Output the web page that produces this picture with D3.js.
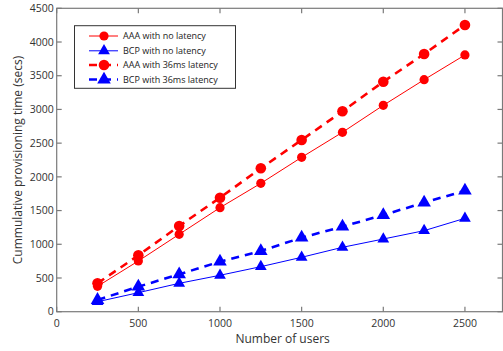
<!DOCTYPE html>
<html>
<head>
<meta charset="utf-8">
<script src="https://cdn.jsdelivr.net/npm/d3@7"></script>
<style>
  body { margin: 0; background: #fff; }
  svg { display: block; font-family: "Open Sans", sans-serif; }
</style>
</head>
<body>
<div id="chart"></div>
<script>

// data
var users = [250, 500, 750, 1000, 1250, 1500, 1750, 2000, 2250, 2500];
var aaaNoLatency  = [377, 752, 1148, 1543, 1904, 2290, 2661, 3061, 3441, 3808];
var bcpNoLatency  = [148, 282, 421, 540, 668, 807, 955, 1078, 1202, 1385];
var aaa36ms       = [421, 836, 1271, 1691, 2127, 2547, 2972, 3411, 3822, 4252];
var bcp36ms       = [174, 371, 555, 742, 900, 1098, 1261, 1434, 1617, 1795];
var xTicks = [0, 500, 1000, 1500, 2000, 2500];
var yTicks = [0, 500, 1000, 1500, 2000, 2500, 3000, 3500, 4000, 4500];

var series = [
  {name: "AAA with no latency",   values: aaaNoLatency, color: "#ff0000", marker: "circle",   dashed: false},
  {name: "BCP with no latency",   values: bcpNoLatency, color: "#0000ff", marker: "triangle", dashed: false},
  {name: "AAA with 36ms latency", values: aaa36ms,      color: "#ff0000", marker: "circle",   dashed: true},
  {name: "BCP with 36ms latency", values: bcp36ms,      color: "#0000ff", marker: "triangle", dashed: true}
];

var w = 503, h = 351;
var plotL = 56.7, plotR = 502.5, plotT = 8.3, plotB = 311.7;
var axisColor = "#7a7a7a";
var textColor = "#333333";

var svg = d3.select("#chart").append("svg").attr("width", w).attr("height", h);

var x = d3.scaleLinear().domain([0, 2730]).range([plotL, plotR]);
var y = d3.scaleLinear().domain([0, 4500]).range([plotB, plotT]);

// box + ticks (inward on all four sides)
var tickLen = 5;
var frame = svg.append("g").attr("stroke", axisColor).attr("stroke-width", 1.2).attr("fill", "none");
frame.append("rect").attr("x", plotL).attr("y", plotT).attr("width", plotR - plotL).attr("height", plotB - plotT);

xTicks.forEach(function(t) {
  frame.append("line").attr("x1", x(t)).attr("x2", x(t)).attr("y1", plotB).attr("y2", plotB - tickLen);
  frame.append("line").attr("x1", x(t)).attr("x2", x(t)).attr("y1", plotT).attr("y2", plotT + tickLen);
});
yTicks.forEach(function(t) {
  frame.append("line").attr("x1", plotL).attr("x2", plotL + tickLen).attr("y1", y(t)).attr("y2", y(t));
  frame.append("line").attr("x1", plotR).attr("x2", plotR - tickLen).attr("y1", y(t)).attr("y2", y(t));
});

svg.append("g").selectAll("text").data(xTicks).enter().append("text")
   .attr("x", function(d) { return x(d); })
   .attr("y", plotB + 15.5)
   .attr("text-anchor", "middle")
   .attr("font-size", 10.5)
   .attr("fill", textColor)
   .text(function(d) { return d; });

svg.append("g").selectAll("text").data(yTicks).enter().append("text")
   .attr("x", plotL - 3)
   .attr("y", function(d) { return y(d); })
   .attr("dy", "0.35em")
   .attr("text-anchor", "end")
   .attr("font-size", 10.5)
   .attr("fill", textColor)
   .text(function(d) { return d; });

svg.append("text")
   .attr("x", (plotL + plotR) / 2 + 3)
   .attr("y", 342.5)
   .attr("text-anchor", "middle")
   .attr("font-size", 12)
   .attr("fill", textColor)
   .text("Number of users");

svg.append("text")
   .attr("transform", "translate(22," + ((plotT + plotB) / 2) + ") rotate(-90)")
   .attr("text-anchor", "middle")
   .attr("font-size", 12)
   .attr("fill", textColor)
   .text("Cummulative provisioning time (secs)");

// markers
var triangle = d3.symbol().type(d3.symbolTriangle);
function drawMarker(sel, s, cx, cy) {
  var big = s.dashed;
  if (s.marker === "circle") {
    sel.append("circle").attr("cx", cx).attr("cy", cy).attr("r", big ? 5.3 : 4.6).attr("fill", s.color);
  } else {
    sel.append("path").attr("d", triangle.size(big ? 80 : 60)())
       .attr("transform", "translate(" + cx + "," + cy + ")")
       .attr("fill", s.color);
  }
}

var line = d3.line().x(function(d) { return x(d[0]); }).y(function(d) { return y(d[1]); });

series.forEach(function(s) {
  var pts = users.map(function(u, i) { return [u, s.values[i]]; });
  var g = svg.append("g");
  g.append("path").datum(pts).attr("d", line)
   .attr("fill", "none")
   .attr("stroke", s.color)
   .attr("stroke-width", s.dashed ? 2.6 : 1)
   .attr("stroke-dasharray", s.dashed ? "8,6" : null);
  pts.forEach(function(p) { drawMarker(g, s, x(p[0]), y(p[1])); });
});

// legend
var lg = svg.append("g");
lg.append("rect").attr("x", 74.5).attr("y", 25.7).attr("width", 161).attr("height", 62.6)
  .attr("fill", "#fff").attr("stroke", "#333").attr("stroke-width", 1);
var rowY = [36, 50.8, 65, 79.5];
series.forEach(function(s, i) {
  lg.append("line").attr("x1", 89).attr("x2", 118).attr("y1", rowY[i]).attr("y2", rowY[i])
    .attr("stroke", s.color)
    .attr("stroke-width", s.dashed ? 2.6 : 1)
    .attr("stroke-dasharray", s.dashed ? "8,6" : null);
  drawMarker(lg, s, 104, rowY[i]);
  lg.append("text").attr("x", 123).attr("y", rowY[i]).attr("dy", "0.35em")
    .attr("font-size", 9).attr("fill", "#222").text(s.name);
});

</script>
</body>
</html>
